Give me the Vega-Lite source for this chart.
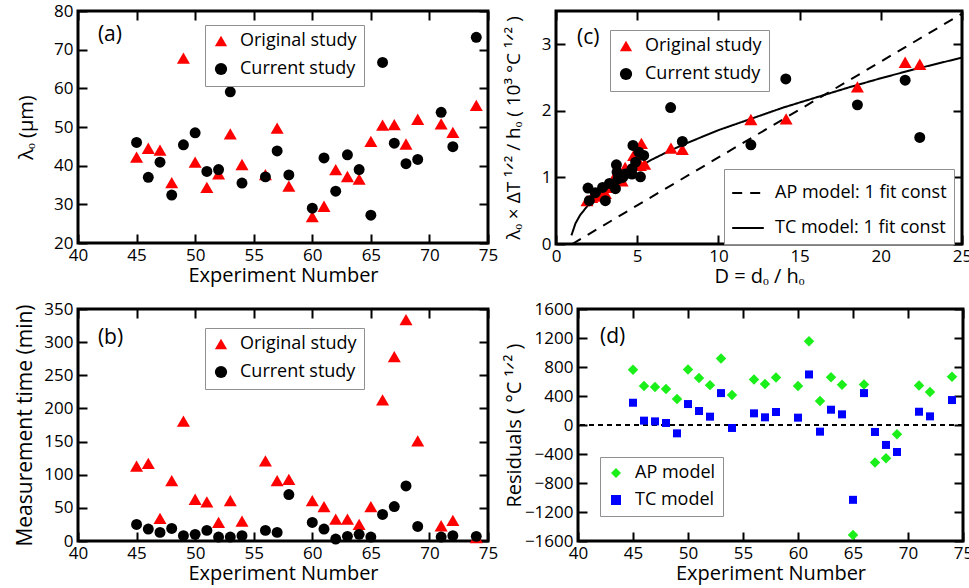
{
  "$schema": "https://vega.github.io/schema/vega-lite/v6.json",
  "padding": {"left": 13, "right": 2, "top": 0, "bottom": 0},
  "background": "white",
  "config": {
    "font": "Open Sans",
    "view": {"stroke": "black", "strokeWidth": 3},
    "axis": {"domain": false, "grid": false, "labelColor": "black", "titleColor": "black", "labelFont": "Open Sans", "titleFont": "Open Sans", "labelFontSize": 17, "titleFontSize": 20, "titleFontWeight": "normal", "tickColor": "#000000", "tickWidth": 2, "labelOverlap": false, "labelFlush": false, "format": "d"},
    "legend": {"orient": "none", "title": null, "labelFont": "Open Sans", "labelFontSize": 18, "labelColor": "black", "strokeColor": "#909090", "fillColor": "white", "padding": 7, "rowPadding": 9, "labelOffset": 10, "symbolOpacity": 1, "symbolSize": 150, "labelLimit": 400}
  },
  "resolve": {
    "scale": {"color": "independent", "shape": "independent", "strokeDash": "independent"},
    "legend": {"color": "independent", "shape": "independent", "strokeDash": "independent"}
  },
  "datasets": {
    "lam": [
      {"e":45,"s":"Original study","v":42.2},{"e":46,"s":"Original study","v":44.5},{"e":47,"s":"Original study","v":44},{"e":48,"s":"Original study","v":35.6},{"e":49,"s":"Original study","v":67.8},{"e":50,"s":"Original study","v":40.9},{"e":51,"s":"Original study","v":34.4},{"e":52,"s":"Original study","v":37.9},{"e":53,"s":"Original study","v":48.2},{"e":54,"s":"Original study","v":40.3},{"e":56,"s":"Original study","v":37.7},{"e":57,"s":"Original study","v":49.7},{"e":58,"s":"Original study","v":34.7},{"e":60,"s":"Original study","v":26.8},{"e":61,"s":"Original study","v":29.5},{"e":62,"s":"Original study","v":39},{"e":63,"s":"Original study","v":37.2},{"e":64,"s":"Original study","v":36.5},{"e":65,"s":"Original study","v":46.3},{"e":66,"s":"Original study","v":50.5},{"e":67,"s":"Original study","v":50.6},{"e":68,"s":"Original study","v":45.6},{"e":69,"s":"Original study","v":52},{"e":71,"s":"Original study","v":50.8},{"e":72,"s":"Original study","v":48.6},{"e":74,"s":"Original study","v":55.6},
      {"e":45,"s":"Current study","v":46},{"e":46,"s":"Current study","v":37},{"e":47,"s":"Current study","v":40.9},{"e":48,"s":"Current study","v":32.4},{"e":49,"s":"Current study","v":45.4},{"e":50,"s":"Current study","v":48.5},{"e":51,"s":"Current study","v":38.5},{"e":52,"s":"Current study","v":39},{"e":53,"s":"Current study","v":59.1},{"e":54,"s":"Current study","v":35.5},{"e":56,"s":"Current study","v":37.1},{"e":57,"s":"Current study","v":43.8},{"e":58,"s":"Current study","v":37.6},{"e":60,"s":"Current study","v":29},{"e":61,"s":"Current study","v":42},{"e":62,"s":"Current study","v":33.4},{"e":63,"s":"Current study","v":42.8},{"e":64,"s":"Current study","v":39},{"e":65,"s":"Current study","v":27.2},{"e":66,"s":"Current study","v":66.7},{"e":67,"s":"Current study","v":45.8},{"e":68,"s":"Current study","v":40.5},{"e":69,"s":"Current study","v":41.6},{"e":71,"s":"Current study","v":53.8},{"e":72,"s":"Current study","v":44.9},{"e":74,"s":"Current study","v":73.2}
    ],
    "mtime": [
      {"e":45,"s":"Original study","v":113},{"e":46,"s":"Original study","v":117},{"e":47,"s":"Original study","v":34},{"e":48,"s":"Original study","v":91},{"e":49,"s":"Original study","v":181},{"e":50,"s":"Original study","v":63},{"e":51,"s":"Original study","v":59},{"e":52,"s":"Original study","v":28},{"e":53,"s":"Original study","v":61},{"e":54,"s":"Original study","v":30},{"e":56,"s":"Original study","v":121},{"e":57,"s":"Original study","v":91},{"e":58,"s":"Original study","v":93},{"e":60,"s":"Original study","v":61},{"e":61,"s":"Original study","v":52},{"e":62,"s":"Original study","v":33},{"e":63,"s":"Original study","v":33},{"e":64,"s":"Original study","v":25},{"e":65,"s":"Original study","v":52},{"e":66,"s":"Original study","v":213},{"e":67,"s":"Original study","v":278},{"e":68,"s":"Original study","v":334},{"e":69,"s":"Original study","v":151},{"e":71,"s":"Original study","v":23},{"e":72,"s":"Original study","v":31},{"e":74,"s":"Original study","v":5},
      {"e":45,"s":"Current study","v":25},{"e":46,"s":"Current study","v":18},{"e":47,"s":"Current study","v":13},{"e":48,"s":"Current study","v":19},{"e":49,"s":"Current study","v":8},{"e":50,"s":"Current study","v":10},{"e":51,"s":"Current study","v":16},{"e":52,"s":"Current study","v":6},{"e":53,"s":"Current study","v":6},{"e":54,"s":"Current study","v":8},{"e":56,"s":"Current study","v":16},{"e":57,"s":"Current study","v":13},{"e":58,"s":"Current study","v":70},{"e":60,"s":"Current study","v":28},{"e":61,"s":"Current study","v":18},{"e":62,"s":"Current study","v":3},{"e":63,"s":"Current study","v":7},{"e":64,"s":"Current study","v":10},{"e":65,"s":"Current study","v":6},{"e":66,"s":"Current study","v":40},{"e":67,"s":"Current study","v":52},{"e":68,"s":"Current study","v":83},{"e":69,"s":"Current study","v":22},{"e":71,"s":"Current study","v":6},{"e":72,"s":"Current study","v":8},{"e":74,"s":"Current study","v":7}
    ],
    "scaled": [
      {"D":1.91,"s":"Original study","v":0.65},{"D":2.2,"s":"Original study","v":0.7},{"D":2.44,"s":"Original study","v":0.72},{"D":2.9,"s":"Original study","v":0.74},{"D":3.04,"s":"Original study","v":0.76},{"D":3.3,"s":"Original study","v":0.85},{"D":3.6,"s":"Original study","v":0.92},{"D":3.8,"s":"Original study","v":0.97},{"D":4.07,"s":"Original study","v":0.95},{"D":4.26,"s":"Original study","v":1.15},{"D":4.5,"s":"Original study","v":1.12},{"D":4.6,"s":"Original study","v":1.1},{"D":4.78,"s":"Original study","v":1.33},{"D":5.0,"s":"Original study","v":1.28},{"D":4.9,"s":"Original study","v":1.36},{"D":5.26,"s":"Original study","v":1.51},{"D":5.46,"s":"Original study","v":1.2},{"D":5.2,"s":"Original study","v":1.18},{"D":3.7,"s":"Original study","v":1.05},{"D":7.08,"s":"Original study","v":1.44},{"D":7.78,"s":"Original study","v":1.42},{"D":12.0,"s":"Original study","v":1.87},{"D":14.17,"s":"Original study","v":1.88},{"D":18.56,"s":"Original study","v":2.36},{"D":21.5,"s":"Original study","v":2.73},{"D":22.4,"s":"Original study","v":2.7},
      {"D":1.97,"s":"Current study","v":0.84},{"D":2.05,"s":"Current study","v":0.65},{"D":2.42,"s":"Current study","v":0.77},{"D":2.87,"s":"Current study","v":0.85},{"D":3.04,"s":"Current study","v":0.65},{"D":3.29,"s":"Current study","v":0.91},{"D":3.66,"s":"Current study","v":0.83},{"D":3.72,"s":"Current study","v":1.19},{"D":3.76,"s":"Current study","v":1.08},{"D":3.82,"s":"Current study","v":0.98},{"D":4.1,"s":"Current study","v":1.0},{"D":4.27,"s":"Current study","v":1.05},{"D":4.68,"s":"Current study","v":1.05},{"D":4.68,"s":"Current study","v":1.13},{"D":4.74,"s":"Current study","v":1.48},{"D":4.9,"s":"Current study","v":1.23},{"D":5.1,"s":"Current study","v":1.38},{"D":5.4,"s":"Current study","v":1.33},{"D":5.2,"s":"Current study","v":1.01},{"D":7.06,"s":"Current study","v":2.05},{"D":7.78,"s":"Current study","v":1.54},{"D":12.0,"s":"Current study","v":1.49},{"D":14.15,"s":"Current study","v":2.48},{"D":18.56,"s":"Current study","v":2.09},{"D":21.5,"s":"Current study","v":2.46},{"D":22.4,"s":"Current study","v":1.6}
    ],
    "models": [
      {"D":1.0,"m":"AP model: 1 fit const","v":0.0},{"D":5,"m":"AP model: 1 fit const","v":0.58},{"D":10,"m":"AP model: 1 fit const","v":1.3},{"D":15,"m":"AP model: 1 fit const","v":2.02},{"D":20,"m":"AP model: 1 fit const","v":2.74},{"D":25,"m":"AP model: 1 fit const","v":3.46},
      {"D":0.95,"m":"TC model: 1 fit const","v":0.13},{"D":1.2,"m":"TC model: 1 fit const","v":0.31},{"D":1.5,"m":"TC model: 1 fit const","v":0.44},{"D":2,"m":"TC model: 1 fit const","v":0.59},{"D":2.5,"m":"TC model: 1 fit const","v":0.72},{"D":3,"m":"TC model: 1 fit const","v":0.82},{"D":4,"m":"TC model: 1 fit const","v":1.0},{"D":5,"m":"TC model: 1 fit const","v":1.15},{"D":6,"m":"TC model: 1 fit const","v":1.28},{"D":7,"m":"TC model: 1 fit const","v":1.4},{"D":8,"m":"TC model: 1 fit const","v":1.51},{"D":10,"m":"TC model: 1 fit const","v":1.71},{"D":12,"m":"TC model: 1 fit const","v":1.88},{"D":14,"m":"TC model: 1 fit const","v":2.05},{"D":16,"m":"TC model: 1 fit const","v":2.2},{"D":18,"m":"TC model: 1 fit const","v":2.35},{"D":20,"m":"TC model: 1 fit const","v":2.49},{"D":22,"m":"TC model: 1 fit const","v":2.62},{"D":25,"m":"TC model: 1 fit const","v":2.8}
    ],
    "resid": [
      {"e":45,"m":"AP model","v":761},{"e":46,"m":"AP model","v":537},{"e":47,"m":"AP model","v":523},{"e":48,"m":"AP model","v":495},{"e":49,"m":"AP model","v":358},{"e":50,"m":"AP model","v":766},{"e":51,"m":"AP model","v":647},{"e":52,"m":"AP model","v":550},{"e":53,"m":"AP model","v":917},{"e":54,"m":"AP model","v":413},{"e":56,"m":"AP model","v":628},{"e":57,"m":"AP model","v":564},{"e":58,"m":"AP model","v":656},{"e":60,"m":"AP model","v":537},{"e":61,"m":"AP model","v":1156},{"e":62,"m":"AP model","v":330},{"e":63,"m":"AP model","v":660},{"e":64,"m":"AP model","v":555},{"e":65,"m":"AP model","v":-1518},{"e":66,"m":"AP model","v":560},{"e":67,"m":"AP model","v":-518},{"e":68,"m":"AP model","v":-459},{"e":69,"m":"AP model","v":-128},{"e":71,"m":"AP model","v":546},{"e":72,"m":"AP model","v":454},{"e":74,"m":"AP model","v":665},
      {"e":45,"m":"TC model","v":307},{"e":46,"m":"TC model","v":60},{"e":47,"m":"TC model","v":50},{"e":48,"m":"TC model","v":28},{"e":49,"m":"TC model","v":-115},{"e":50,"m":"TC model","v":289},{"e":51,"m":"TC model","v":193},{"e":52,"m":"TC model","v":115},{"e":53,"m":"TC model","v":440},{"e":54,"m":"TC model","v":-41},{"e":56,"m":"TC model","v":161},{"e":57,"m":"TC model","v":106},{"e":58,"m":"TC model","v":179},{"e":60,"m":"TC model","v":101},{"e":61,"m":"TC model","v":697},{"e":62,"m":"TC model","v":-92},{"e":63,"m":"TC model","v":211},{"e":64,"m":"TC model","v":147},{"e":65,"m":"TC model","v":-1032},{"e":66,"m":"TC model","v":440},{"e":67,"m":"TC model","v":-96},{"e":68,"m":"TC model","v":-275},{"e":69,"m":"TC model","v":-372},{"e":71,"m":"TC model","v":183},{"e":72,"m":"TC model","v":119},{"e":74,"m":"TC model","v":344}
    ]
  },
  "columns": 2,
  "align": "none",
  "spacing": {"row": 10, "column": 2},
  "concat": [
    {
      "width": 410, "height": 232,
      "data": {"name": "lam"},
      "layer": [
        {
          "transform": [{"filter": "datum.s === 'Original study'"}],
          "mark": {"type": "point", "filled": true, "opacity": 1, "size": 170},
          "encoding": {
            "x": {"field": "e", "type": "quantitative", "scale": {"domain": [40, 75], "nice": false, "zero": false},
              "axis": {"orient": "bottom", "values": [40,45,50,55,60,65,70,75], "offset": -9, "tickSize": 9, "tickColor": "black", "tickWidth": 2, "labelPadding": 4, "title": "Experiment Number", "titlePadding": 2}},
            "y": {"field": "v", "type": "quantitative", "scale": {"domain": [20, 80], "nice": false, "zero": false},
              "axis": {"orient": "left", "values": [20,30,40,50,60,70,80], "offset": -9, "tickSize": 9, "tickColor": "black", "tickWidth": 2, "labelPadding": 5, "title": "λₒ (μm)", "titlePadding": 17}},
            "color": {"field": "s", "type": "nominal", "scale": {"domain": ["Original study", "Current study"], "range": ["#ff0000", "#000000"]}, "legend": {"legendX": 127, "legendY": 14}},
            "shape": {"field": "s", "type": "nominal", "scale": {"domain": ["Original study", "Current study"], "range": ["triangle-up", "circle"]}, "legend": {"legendX": 127, "legendY": 14}}
          }
        },
        {
          "transform": [{"filter": "datum.s === 'Current study'"}],
          "mark": {"type": "point", "filled": true, "opacity": 1, "size": 120},
          "encoding": {
            "x": {"field": "e", "type": "quantitative", "axis": null},
            "y": {"field": "v", "type": "quantitative", "axis": null},
            "color": {"field": "s", "type": "nominal", "scale": {"domain": ["Original study", "Current study"], "range": ["#ff0000", "#000000"]}, "legend": {"legendX": 127, "legendY": 14}},
            "shape": {"field": "s", "type": "nominal", "scale": {"domain": ["Original study", "Current study"], "range": ["triangle-up", "circle"]}, "legend": {"legendX": 127, "legendY": 14}}
          }
        },
        {
          "data": {"values": [{}]},
          "mark": {"type": "text", "fontSize": 21, "align": "left", "baseline": "middle", "color": "black"},
          "encoding": {
            "x": {"datum": 41.7, "type": "quantitative", "axis": {"orient": "top", "values": [40,45,50,55,60,65,70,75], "offset": -9, "tickSize": 9, "tickColor": "black", "tickWidth": 2, "labels": false, "title": null}},
            "y": {"datum": 73.8, "type": "quantitative", "axis": {"orient": "right", "values": [20,30,40,50,60,70,80], "offset": -9, "tickSize": 9, "tickColor": "black", "tickWidth": 2, "labels": false, "title": null}},
            "text": {"value": "(a)"}
          }
        }
      ],
      "resolve": {"axis": {"x": "independent", "y": "independent"}}
    },
    {
      "width": 406, "height": 233,
      "layer": [
        {
          "data": {"name": "models"},
          "mark": {"type": "line", "color": "black", "strokeWidth": 2, "clip": true},
          "encoding": {
            "x": {"field": "D", "type": "quantitative", "scale": {"domain": [0, 25], "nice": false},
              "axis": {"orient": "bottom", "values": [0,5,10,15,20,25], "offset": -9, "tickSize": 9, "tickColor": "black", "tickWidth": 2, "labelPadding": 4, "title": "D = dₒ / hₒ", "titlePadding": 2}},
            "y": {"field": "v", "type": "quantitative", "scale": {"domain": [0, 3.5], "nice": false},
              "axis": {"orient": "left", "values": [0,1,2,3], "offset": -9, "tickSize": 9, "tickColor": "black", "tickWidth": 2, "labelPadding": 5, "title": "λₒ × ΔT ¹ᐟ² / hₒ ( 10³ °C ¹ᐟ² )", "titleFontSize": 19, "titlePadding": 18}},
            "strokeDash": {"field": "m", "type": "nominal", "scale": {"domain": ["AP model: 1 fit const", "TC model: 1 fit const"], "range": [[10, 8], [1, 0]]}, "legend": {"legendX": 168, "legendY": 158, "symbolType": "stroke", "symbolSize": 1000, "symbolStrokeWidth": 2, "symbolStrokeColor": "black"}},
            "order": {"field": "D", "type": "quantitative"}
          }
        },
        {
          "data": {"name": "scaled"},
          "transform": [{"filter": "datum.s === 'Original study'"}],
          "mark": {"type": "point", "filled": true, "opacity": 1, "size": 170},
          "encoding": {
            "x": {"field": "D", "type": "quantitative", "axis": null},
            "y": {"field": "v", "type": "quantitative", "axis": null},
            "color": {"field": "s", "type": "nominal", "scale": {"domain": ["Original study", "Current study"], "range": ["#ff0000", "#000000"]}, "legend": {"legendX": 54, "legendY": 19}},
            "shape": {"field": "s", "type": "nominal", "scale": {"domain": ["Original study", "Current study"], "range": ["triangle-up", "circle"]}, "legend": {"legendX": 54, "legendY": 19}}
          }
        },
        {
          "data": {"name": "scaled"},
          "transform": [{"filter": "datum.s === 'Current study'"}],
          "mark": {"type": "point", "filled": true, "opacity": 1, "size": 120},
          "encoding": {
            "x": {"field": "D", "type": "quantitative", "axis": null},
            "y": {"field": "v", "type": "quantitative", "axis": null},
            "color": {"field": "s", "type": "nominal", "scale": {"domain": ["Original study", "Current study"], "range": ["#ff0000", "#000000"]}, "legend": {"legendX": 54, "legendY": 19}},
            "shape": {"field": "s", "type": "nominal", "scale": {"domain": ["Original study", "Current study"], "range": ["triangle-up", "circle"]}, "legend": {"legendX": 54, "legendY": 19}}
          }
        },
        {
          "data": {"values": [{}]},
          "mark": {"type": "text", "fontSize": 21, "align": "left", "baseline": "middle", "color": "black"},
          "encoding": {
            "x": {"datum": 1.3, "type": "quantitative", "axis": {"orient": "top", "values": [0,5,10,15,20,25], "offset": -9, "tickSize": 9, "tickColor": "black", "tickWidth": 2, "labels": false, "title": null}},
            "y": {"datum": 3.09, "type": "quantitative", "axis": {"orient": "right", "values": [0,1,2,3], "offset": -9, "tickSize": 9, "tickColor": "black", "tickWidth": 2, "labels": false, "title": null}},
            "text": {"value": "(c)"}
          }
        }
      ],
      "resolve": {"axis": {"x": "independent", "y": "independent"}}
    },
    {
      "width": 410, "height": 232,
      "data": {"name": "mtime"},
      "layer": [
        {
          "transform": [{"filter": "datum.s === 'Original study'"}],
          "mark": {"type": "point", "filled": true, "opacity": 1, "size": 170},
          "encoding": {
            "x": {"field": "e", "type": "quantitative", "scale": {"domain": [40, 75], "nice": false, "zero": false},
              "axis": {"orient": "bottom", "values": [40,45,50,55,60,65,70,75], "offset": -9, "tickSize": 9, "tickColor": "black", "tickWidth": 2, "labelPadding": 4, "title": "Experiment Number", "titlePadding": 2}},
            "y": {"field": "v", "type": "quantitative", "scale": {"domain": [0, 350], "nice": false},
              "axis": {"orient": "left", "values": [0,50,100,150,200,250,300,350], "offset": -9, "tickSize": 9, "tickColor": "black", "tickWidth": 2, "labelPadding": 5, "title": "Measurement time (min)", "titleFontSize": 21, "titlePadding": 8}},
            "color": {"field": "s", "type": "nominal", "scale": {"domain": ["Original study", "Current study"], "range": ["#ff0000", "#000000"]}, "legend": {"legendX": 127, "legendY": 19}},
            "shape": {"field": "s", "type": "nominal", "scale": {"domain": ["Original study", "Current study"], "range": ["triangle-up", "circle"]}, "legend": {"legendX": 127, "legendY": 19}}
          }
        },
        {
          "transform": [{"filter": "datum.s === 'Current study'"}],
          "mark": {"type": "point", "filled": true, "opacity": 1, "size": 120},
          "encoding": {
            "x": {"field": "e", "type": "quantitative", "axis": null},
            "y": {"field": "v", "type": "quantitative", "axis": null},
            "color": {"field": "s", "type": "nominal", "scale": {"domain": ["Original study", "Current study"], "range": ["#ff0000", "#000000"]}, "legend": {"legendX": 127, "legendY": 19}},
            "shape": {"field": "s", "type": "nominal", "scale": {"domain": ["Original study", "Current study"], "range": ["triangle-up", "circle"]}, "legend": {"legendX": 127, "legendY": 19}}
          }
        },
        {
          "data": {"values": [{}]},
          "mark": {"type": "text", "fontSize": 21, "align": "left", "baseline": "middle", "color": "black"},
          "encoding": {
            "x": {"datum": 41.7, "type": "quantitative", "axis": {"orient": "top", "values": [40,45,50,55,60,65,70,75], "offset": -9, "tickSize": 9, "tickColor": "black", "tickWidth": 2, "labels": false, "title": null}},
            "y": {"datum": 306, "type": "quantitative", "axis": {"orient": "right", "values": [0,50,100,150,200,250,300,350], "offset": -9, "tickSize": 9, "tickColor": "black", "tickWidth": 2, "labels": false, "title": null}},
            "text": {"value": "(b)"}
          }
        }
      ],
      "resolve": {"axis": {"x": "independent", "y": "independent"}}
    },
    {
      "width": 385, "height": 232,
      "layer": [
        {
          "data": {"values": [{}]},
          "mark": {"type": "rule", "color": "black", "strokeWidth": 2, "strokeDash": [5, 4]},
          "encoding": {"y": {"datum": 0, "type": "quantitative", "axis": null}}
        },
        {
          "data": {"name": "resid"},
          "transform": [{"filter": "datum.m === 'AP model'"}],
          "mark": {"type": "point", "filled": true, "opacity": 1, "size": 110},
          "encoding": {
            "x": {"field": "e", "type": "quantitative", "scale": {"domain": [40, 75], "nice": false, "zero": false},
              "axis": {"orient": "bottom", "values": [40,45,50,55,60,65,70,75], "offset": -9, "tickSize": 9, "tickColor": "black", "tickWidth": 2, "labelPadding": 4, "title": "Experiment Number", "titlePadding": 2}},
            "y": {"field": "v", "type": "quantitative", "scale": {"domain": [-1600, 1600], "nice": false},
              "axis": {"orient": "left", "values": [-1600,-1200,-800,-400,0,400,800,1200,1600], "offset": -9, "tickSize": 9, "tickColor": "black", "tickWidth": 2, "labelPadding": 5, "title": "Residuals (  °C  ¹ᐟ²  )", "titlePadding": 0}},
            "color": {"field": "m", "type": "nominal", "scale": {"domain": ["AP model", "TC model"], "range": ["#1aef1a", "#0000ff"]}, "legend": {"legendX": 22, "legendY": 148, "symbolSize": 100}},
            "shape": {"field": "m", "type": "nominal", "scale": {"domain": ["AP model", "TC model"], "range": ["diamond", "square"]}, "legend": {"legendX": 22, "legendY": 148, "symbolSize": 100}}
          }
        },
        {
          "data": {"name": "resid"},
          "transform": [{"filter": "datum.m === 'TC model'"}],
          "mark": {"type": "point", "filled": true, "opacity": 1, "size": 64},
          "encoding": {
            "x": {"field": "e", "type": "quantitative", "axis": null},
            "y": {"field": "v", "type": "quantitative", "axis": null},
            "color": {"field": "m", "type": "nominal", "scale": {"domain": ["AP model", "TC model"], "range": ["#1aef1a", "#0000ff"]}, "legend": {"legendX": 22, "legendY": 148, "symbolSize": 100}},
            "shape": {"field": "m", "type": "nominal", "scale": {"domain": ["AP model", "TC model"], "range": ["diamond", "square"]}, "legend": {"legendX": 22, "legendY": 148, "symbolSize": 100}}
          }
        },
        {
          "data": {"values": [{}]},
          "mark": {"type": "text", "fontSize": 21, "align": "left", "baseline": "middle", "color": "black"},
          "encoding": {
            "x": {"datum": 42, "type": "quantitative", "axis": {"orient": "top", "values": [40,45,50,55,60,65,70,75], "offset": -9, "tickSize": 9, "tickColor": "black", "tickWidth": 2, "labels": false, "title": null}},
            "y": {"datum": 1218, "type": "quantitative", "axis": {"orient": "right", "values": [-1600,-1200,-800,-400,0,400,800,1200,1600], "offset": -9, "tickSize": 9, "tickColor": "black", "tickWidth": 2, "labels": false, "title": null}},
            "text": {"value": "(d)"}
          }
        }
      ],
      "resolve": {"axis": {"x": "independent", "y": "independent"}}
    }
  ]
}
